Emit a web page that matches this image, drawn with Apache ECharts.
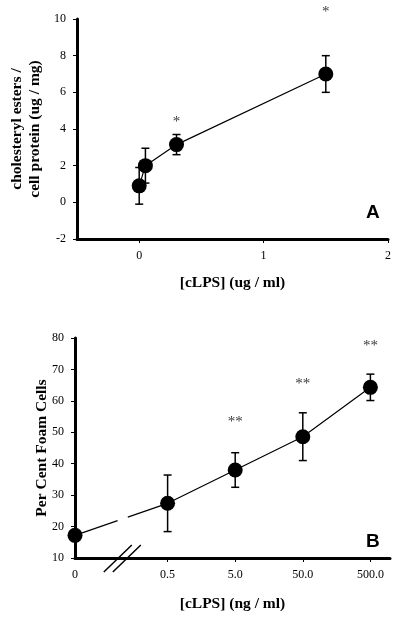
<!DOCTYPE html>
<html><head><meta charset="utf-8">
<script src="https://cdn.jsdelivr.net/npm/echarts@6/dist/echarts.min.js"></script>
<style>html,body{margin:0;padding:0;background:#fff}#c{width:400px;height:617px}</style>
</head><body><div id="c"></div>
<script>
// Panel A data
const A_x = [0, 0.05, 0.3, 1.5];
const A_y = [0.9, 2.0, 3.15, 7.0];
const A_err = [1.0, 0.95, 0.55, 1.0];
const A_xTicks = [0, 1, 2];
const A_starX = [0.3, 1.5];
const A_starY = [4.6, 10.6];
const A_starText = ['*', '*'];

// Panel B data
const B_labels = ['0', '0.5', '5.0', '50.0', '500.0'];
const B_pos = [0, 1.37, 2.37, 3.37, 4.37];
const B_y = [17.2, 27.4, 38.0, 48.6, 64.3];
const B_err = [0, 9.0, 5.5, 7.6, 4.2];
const B_starIdx = [2, 3, 4];
const B_starY = [54.5, 66.5, 78.8];
const B_starText = ['**', '**', '**'];
const B_gap = [0.46, 0.57]; // visual break on first segment (fraction)
const B_breakAt = 0.7;

const serif = 'Liberation Serif';
const lerp = (a, b, t) => a + (b - a) * t;

function errItem(params, api) {
  const x = api.value(0), y = api.value(1), e = api.value(2);
  if (!e) return null;
  const t = api.coord([x, y + e]), b = api.coord([x, y - e]);
  const hw = 4, st = {stroke: '#000', lineWidth: 1.5};
  return {type: 'group', children: [
    {type: 'line', shape: {x1: t[0], y1: t[1], x2: b[0], y2: b[1]}, style: st},
    {type: 'line', shape: {x1: t[0]-hw, y1: t[1], x2: t[0]+hw, y2: t[1]}, style: st},
    {type: 'line', shape: {x1: b[0]-hw, y1: b[1], x2: b[0]+hw, y2: b[1]}, style: st}
  ]};
}

const axisLine = {onZero: false, lineStyle: {color: '#000', width: 3}};
const tickStyle = {show: true, length: 4, lineStyle: {color: '#000', width: 1}};
const lblStyle = {color: '#000', fontFamily: serif, fontSize: 12};
const nameStyle = {fontFamily: serif, fontWeight: 'bold', fontSize: 15.5, color: '#000'};
const dot = {color: '#000', opacity: 1};

const bPts = B_pos.map((p, i) => [p, B_y[i]]);
const gs = [lerp(B_pos[0], B_pos[1], B_gap[0]), lerp(B_y[0], B_y[1], B_gap[0])];
const ge = [lerp(B_pos[0], B_pos[1], B_gap[1]), lerp(B_y[0], B_y[1], B_gap[1])];

const chart = echarts.init(document.getElementById('c'), null, {renderer: 'canvas'});
const option = {
  backgroundColor: '#fff',
  animation: false,
  title: [
    {text: 'A', left: 361, top: 198, textStyle: {fontFamily: 'Liberation Sans', fontWeight: 'bold', fontSize: 19, color: '#000'}},
    {text: 'B', left: 361, top: 527, textStyle: {fontFamily: 'Liberation Sans', fontWeight: 'bold', fontSize: 19, color: '#000'}}
  ],
  grid: [
    {left: 75, top: 19, width: 313, height: 220},
    {left: 75, top: 338, width: 315, height: 220}
  ],
  xAxis: [
    {gridIndex: 0, type: 'value', min: -0.5, max: 2,
     axisLine: axisLine, splitLine: {show: false},
     axisTick: Object.assign({customValues: A_xTicks}, tickStyle),
     axisLabel: Object.assign({customValues: A_xTicks, margin: 11}, lblStyle),
     name: '[cLPS] (ug / ml)', nameLocation: 'middle', nameGap: 36, nameMoveOverlap: false,
     nameTextStyle: nameStyle},
    {gridIndex: 1, type: 'value', min: 0, max: 4.66,
     axisLine: axisLine, splitLine: {show: false},
     axisTick: Object.assign({customValues: B_pos.slice(1)}, tickStyle),
     axisLabel: Object.assign({customValues: B_pos, margin: 11,
       formatter: v => { const i = B_pos.findIndex(p => Math.abs(p - v) < 1e-6); return i >= 0 ? B_labels[i] : ''; }}, lblStyle),
     name: '[cLPS] (ng / ml)', nameLocation: 'middle', nameGap: 38, nameMoveOverlap: false,
     nameTextStyle: nameStyle}
  ],
  yAxis: [
    {gridIndex: 0, type: 'value', min: -2, max: 10, interval: 2,
     axisLine: axisLine, splitLine: {show: false}, axisTick: tickStyle,
     axisLabel: Object.assign({margin: 11}, lblStyle),
     name: 'cholesteryl esters /\ncell protein (ug / mg)', nameLocation: 'middle', nameGap: 33, nameMoveOverlap: false,
     nameTextStyle: Object.assign({lineHeight: 18}, nameStyle)},
    {gridIndex: 1, type: 'value', min: 10, max: 80, interval: 10,
     axisLine: axisLine, splitLine: {show: false}, axisTick: tickStyle,
     axisLabel: Object.assign({margin: 11}, lblStyle),
     name: 'Per Cent Foam Cells', nameLocation: 'middle', nameGap: 25, nameMoveOverlap: false,
     nameTextStyle: nameStyle}
  ],
  series: [
    // Panel A
    {type: 'line', xAxisIndex: 0, yAxisIndex: 0, symbol: 'none', data: A_x.map((x, i) => [x, A_y[i]]),
     lineStyle: {color: '#000', width: 1.2}, z: 3},
    {type: 'custom', xAxisIndex: 0, yAxisIndex: 0, renderItem: errItem, data: A_x.map((x, i) => [x, A_y[i], A_err[i]]), z: 4},
    {type: 'scatter', xAxisIndex: 0, yAxisIndex: 0, symbol: 'circle', symbolSize: 15, itemStyle: dot,
     data: A_x.map((x, i) => [x, A_y[i]]), z: 5},
    {type: 'scatter', xAxisIndex: 0, yAxisIndex: 0, symbolSize: 0, clip: false,
     data: A_starX.map((x, i) => ({value: [x, A_starY[i]], name: A_starText[i]})),
     label: {show: true, position: 'inside', offset: [0, 4], formatter: p => p.name, fontFamily: serif, fontSize: 15, color: '#000'}},
    // Panel B
    {type: 'line', xAxisIndex: 1, yAxisIndex: 1, symbol: 'none', data: [bPts[0], gs],
     lineStyle: {color: '#000', width: 1.2}, z: 3},
    {type: 'line', xAxisIndex: 1, yAxisIndex: 1, symbol: 'none', data: [ge].concat(bPts.slice(1)),
     lineStyle: {color: '#000', width: 1.2}, z: 3},
    {type: 'custom', xAxisIndex: 1, yAxisIndex: 1, renderItem: errItem, data: B_pos.map((x, i) => [x, B_y[i], B_err[i]]), z: 4},
    {type: 'scatter', xAxisIndex: 1, yAxisIndex: 1, symbol: 'circle', symbolSize: 15, itemStyle: dot,
     data: bPts, z: 5, clip: false},
    {type: 'scatter', xAxisIndex: 1, yAxisIndex: 1, symbolSize: 0, clip: false,
     data: B_starIdx.map((k, i) => ({value: [B_pos[k], B_starY[i]], name: B_starText[i]})),
     label: {show: true, position: 'inside', offset: [0, 4], formatter: p => p.name, fontFamily: serif, fontSize: 15, color: '#000'}}
  ]
};
chart.setOption(option);

// axis break marks "//"
const c = chart.convertToPixel({xAxisIndex: 1, yAxisIndex: 1}, [B_breakAt, 10]);
const mk = dx => ({type: 'line', z: 10, shape: {x1: c[0] + dx - 14, y1: c[1] + 14, x2: c[0] + dx + 14, y2: c[1] - 13},
  style: {stroke: '#000', lineWidth: 1.5}});
chart.setOption({graphic: [mk(-4.5), mk(4.5)]});
</script></body></html>
